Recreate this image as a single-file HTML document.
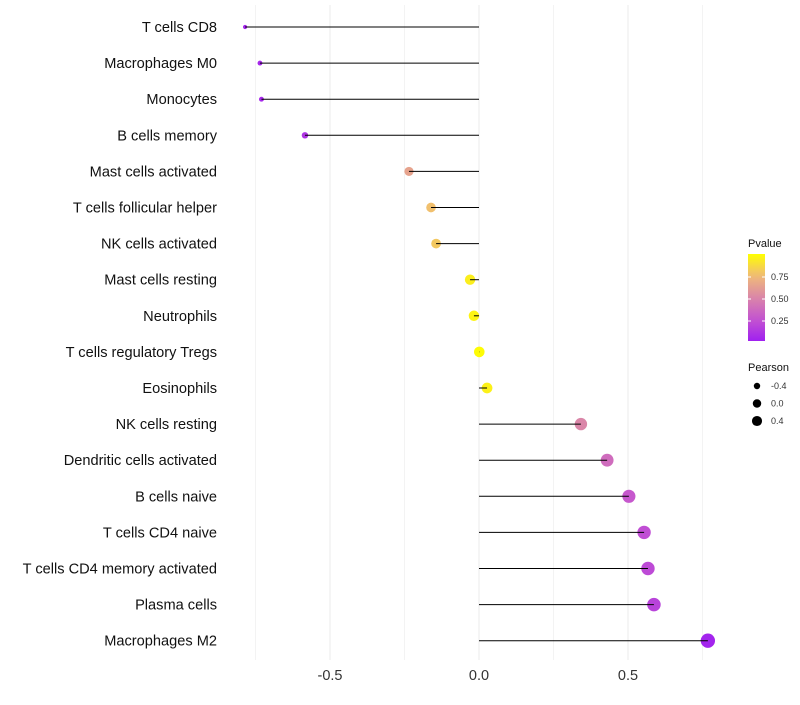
<!DOCTYPE html>
<html><head><meta charset="utf-8"><style>
body{margin:0;background:#fff;font-family:"Liberation Sans",sans-serif}
</style></head><body>
<svg id="c" width="800" height="700" xmlns="http://www.w3.org/2000/svg" font-family="Liberation Sans, sans-serif"></svg>
<script>
const categories=["T cells CD8","Macrophages M0","Monocytes","B cells memory","Mast cells activated","T cells follicular helper","NK cells activated","Mast cells resting","Neutrophils","T cells regulatory  Tregs ","Eosinophils","NK cells resting","Dendritic cells activated","B cells naive","T cells CD4 naive","T cells CD4 memory activated","Plasma cells","Macrophages M2"];
const pearson=[-0.785,-0.735,-0.73,-0.584,-0.235,-0.161,-0.144,-0.03,-0.017,0.001,0.027,0.342,0.43,0.503,0.554,0.567,0.587,0.768];
const pvalue=[0.03,0.04,0.04,0.1,0.64,0.77,0.8,0.94,0.96,0.99,0.95,0.5,0.37,0.27,0.22,0.2,0.17,0.02];
const xTicks=[-0.5,0,0.5];
const xTickLabels=["-0.5","0.0","0.5"];
const pTicks=[0.25,0.5,0.75];
const sizeLegend=[-0.4,0,0.4];

const svg=document.getElementById('c');
const NS="http://www.w3.org/2000/svg";
function mk(t,a,p){const e=document.createElementNS(NS,t);for(const k in a)e.setAttribute(k,a[k]);(p||svg).appendChild(e);return e;}
const xS=v=>479+v*298;
const yS=i=>27+i*36.1;
const rS=v=>Math.sqrt(Math.max(1.5,28+30*v));
const stops=[[0,[160,32,240]],[0.25,[196,84,208]],[0.5,[218,134,168]],[0.75,[240,186,120]],[1,[255,255,0]]];
function col(p){for(let i=1;i<stops.length;i++){if(p<=stops[i][0]){const a=stops[i-1],b=stops[i],t=(p-a[0])/(b[0]-a[0]);return 'rgb('+a[1].map((c,j)=>Math.round(c+(b[1][j]-c)*t)).join(',')+')';}}return 'rgb(255,255,0)';}

[-0.75,-0.5,-0.25,0,0.25,0.5,0.75].forEach(v=>{
const g=mk('line',{x1:xS(v),x2:xS(v),y1:5,y2:660,stroke:Number.isInteger(v*2)?'#ebebeb':'#f3f3f3','stroke-width':1});


});
xTicks.forEach((v,i)=>{
const t=mk('text',{x:xS(v),y:680,'font-size':14.5,'text-anchor':'middle',fill:'#333'});t.textContent=xTickLabels[i];


});
categories.forEach((c,i)=>{
const y=yS(i);
const t=mk('text',{x:217,y:y+5,'font-size':14.6,'text-anchor':'end',fill:'#111','xml:space':'preserve'});t.textContent=c;


const pt=mk('circle',{cx:xS(pearson[i]),cy:y,r:rS(pearson[i]),fill:col(pvalue[i])});


const ln=mk('line',{x1:xS(0),x2:xS(pearson[i]),y1:y,y2:y,stroke:'#000','stroke-width':1});


});
const defs=mk('defs',{});
const lg=mk('linearGradient',{id:'pg',x1:0,y1:1,x2:0,y2:0},defs);
for(let k=0;k<=10;k++)mk('stop',{offset:k/10,'stop-color':col(k/10)},lg);
let t=mk('text',{x:748,y:247,'font-size':11,fill:'#111'});t.textContent='Pvalue';

const bar=mk('rect',{x:748,y:254,width:17,height:87,fill:'url(#pg)'});


pTicks.forEach(p=>{const y=343-p*88;
mk('line',{x1:748,x2:751,y1:y,y2:y,stroke:'#fff'});mk('line',{x1:762,x2:765,y1:y,y2:y,stroke:'#fff'});
const tt=mk('text',{x:771,y:y+3,'font-size':9,fill:'#333'});tt.textContent=p.toFixed(2);
});
t=mk('text',{x:748,y:371,'font-size':11,fill:'#111'});t.textContent='Pearson';

sizeLegend.forEach((v,i)=>{const y=386+i*17.5;
const c=mk('circle',{cx:757,cy:y,r:rS(v)*0.8,fill:'#000'});

const tt=mk('text',{x:771,y:y+3,'font-size':9,fill:'#333'});tt.textContent=v.toFixed(1);
});
</script>
</body></html>
